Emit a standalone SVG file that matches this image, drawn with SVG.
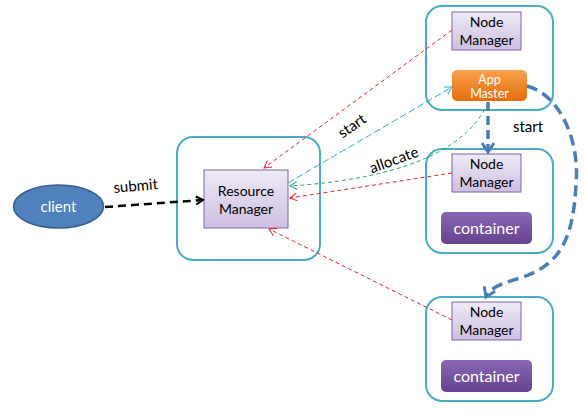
<svg xmlns="http://www.w3.org/2000/svg" width="585" height="411" viewBox="0 0 585 411">
<defs>
<linearGradient id="gNM" x1="0" y1="0" x2="0" y2="1"><stop offset="0" stop-color="#efeaf7"/><stop offset="1" stop-color="#cdbfe2"/></linearGradient>
<linearGradient id="gAM" x1="0" y1="0" x2="0" y2="1"><stop offset="0" stop-color="#f9a24f"/><stop offset="1" stop-color="#e46c0a"/></linearGradient>
<linearGradient id="gCt" x1="0" y1="0" x2="0" y2="1"><stop offset="0" stop-color="#8a67b4"/><stop offset="1" stop-color="#64438f"/></linearGradient>
<marker id="aBlack" markerWidth="10" markerHeight="10" refX="8" refY="5" orient="auto" markerUnits="userSpaceOnUse"><path d="M1,1 L8,5 L1,9" fill="none" stroke="#000" stroke-width="2"/></marker>
<marker id="aRed" markerWidth="10" markerHeight="10" refX="8" refY="5" orient="auto" markerUnits="userSpaceOnUse"><path d="M1,1 L8,5 L1,9" fill="none" stroke="#e8202a" stroke-width="1"/></marker>
<marker id="aCyan" markerWidth="10" markerHeight="10" refX="8" refY="5" orient="auto" markerUnits="userSpaceOnUse"><path d="M1,1 L8,5 L1,9" fill="none" stroke="#2aa9d8" stroke-width="1"/></marker>
<marker id="aGreen" markerWidth="10" markerHeight="10" refX="8" refY="5" orient="auto" markerUnits="userSpaceOnUse"><path d="M1,1 L8,5 L1,9" fill="none" stroke="#22a55a" stroke-width="1"/></marker>
<marker id="aBlue" markerWidth="14" markerHeight="14" refX="11" refY="7" orient="auto" markerUnits="userSpaceOnUse"><path d="M2,1 L11,7 L2,13" fill="none" stroke="#4a7ebb" stroke-width="3"/></marker>
</defs>
<style>
.outer{fill:#fff;stroke:#4bacc6;stroke-width:2}
.nm{fill:url(#gNM);stroke:#8064a2;stroke-width:1}
.ct{fill:url(#gCt)}
.t{font-family:Lato,"Open Sans",sans-serif;fill:#000}
.w{font-family:Lato,"Open Sans",sans-serif;fill:#fff}
.red{fill:none;stroke:#e8202a;stroke-width:1;stroke-dasharray:4,3;marker-end:url(#aRed)}
</style>
<rect width="585" height="411" fill="#fff"/>
<g id="client">
<ellipse cx="58.5" cy="206.5" rx="45" ry="21.5" fill="#4f81bd" stroke="#385d8a" stroke-width="1.5"/>
<text class="w" x="58.5" y="212" font-size="15" text-anchor="middle">client</text>
</g>
<g id="rm">
<rect class="outer" x="177" y="137" width="143" height="123" rx="16"/>
<rect class="nm" x="204" y="170" width="84" height="58"/>
<text class="t" x="246" y="196" font-size="14" text-anchor="middle">Resource</text>
<text class="t" x="246" y="214" font-size="14" text-anchor="middle">Manager</text>
</g>
<g id="node1">
<rect class="outer" x="426" y="6" width="127" height="104" rx="16"/>
<rect class="nm" x="452" y="12" width="69" height="38"/>
<text class="t" x="486.5" y="27" font-size="14" text-anchor="middle">Node</text>
<text class="t" x="486.5" y="45" font-size="14" text-anchor="middle">Manager</text>
<rect x="452" y="70" width="75" height="31" rx="5" fill="url(#gAM)"/>
<text class="w" x="489.5" y="84" font-size="12.5" text-anchor="middle">App</text>
<text class="w" x="489.5" y="98" font-size="12.5" text-anchor="middle">Master</text>
</g>
<g id="node2">
<rect class="outer" x="426" y="149" width="127" height="104" rx="16"/>
<rect class="nm" x="452" y="154" width="69" height="38"/>
<text class="t" x="486.5" y="169" font-size="14" text-anchor="middle">Node</text>
<text class="t" x="486.5" y="187" font-size="14" text-anchor="middle">Manager</text>
<rect class="ct" x="441" y="212" width="91" height="32" rx="5"/>
<text class="w" x="486.5" y="234" font-size="16" text-anchor="middle">container</text>
</g>
<g id="node3">
<rect class="outer" x="426" y="297" width="127" height="104" rx="16"/>
<rect class="nm" x="452" y="302" width="69" height="38"/>
<text class="t" x="486.5" y="317" font-size="14" text-anchor="middle">Node</text>
<text class="t" x="486.5" y="335" font-size="14" text-anchor="middle">Manager</text>
<rect class="ct" x="441" y="360" width="91" height="32" rx="5"/>
<text class="w" x="486.5" y="382" font-size="16" text-anchor="middle">container</text>
</g>
<g id="connectors">
<path d="M105,207 L203,200" fill="none" stroke="#000" stroke-width="2.5" stroke-dasharray="8,5" marker-end="url(#aBlack)"/>
<path class="red" d="M452,30 L264,168"/>
<path class="red" d="M452,173 L290,198"/>
<path class="red" d="M452,320 L269,229"/>
<path d="M288,183 L452,87" fill="none" stroke="#2aa9d8" stroke-width="1" stroke-dasharray="7,3" marker-end="url(#aCyan)"/>
<path d="M488,103 Q455,175 290,186" fill="none" stroke="#22a55a" stroke-width="1" stroke-dasharray="4,3" marker-end="url(#aGreen)"/>
<path d="M488,102 L488,152" fill="none" stroke="#4a7ebb" stroke-width="3.5" stroke-dasharray="9,5" marker-end="url(#aBlue)"/>
<path d="M527,86 C560,95 580,140 576,185 C573,240 560,265 520,278 C500,284 490,288 486,297" fill="none" stroke="#4a7ebb" stroke-width="3.5" stroke-dasharray="11,6" marker-end="url(#aBlue)"/>
<text class="t" x="136" y="191" font-size="15" text-anchor="middle" transform="rotate(-5 136 190)">submit</text>
<text class="t" x="352" y="131" font-size="15" text-anchor="middle" transform="rotate(-35 352 126)">start</text>
<text class="t" x="394" y="165" font-size="15" text-anchor="middle" transform="rotate(-20 394 160)">allocate</text>
<text class="t" x="528" y="132" font-size="15" text-anchor="middle">start</text>
</g>
</svg>
